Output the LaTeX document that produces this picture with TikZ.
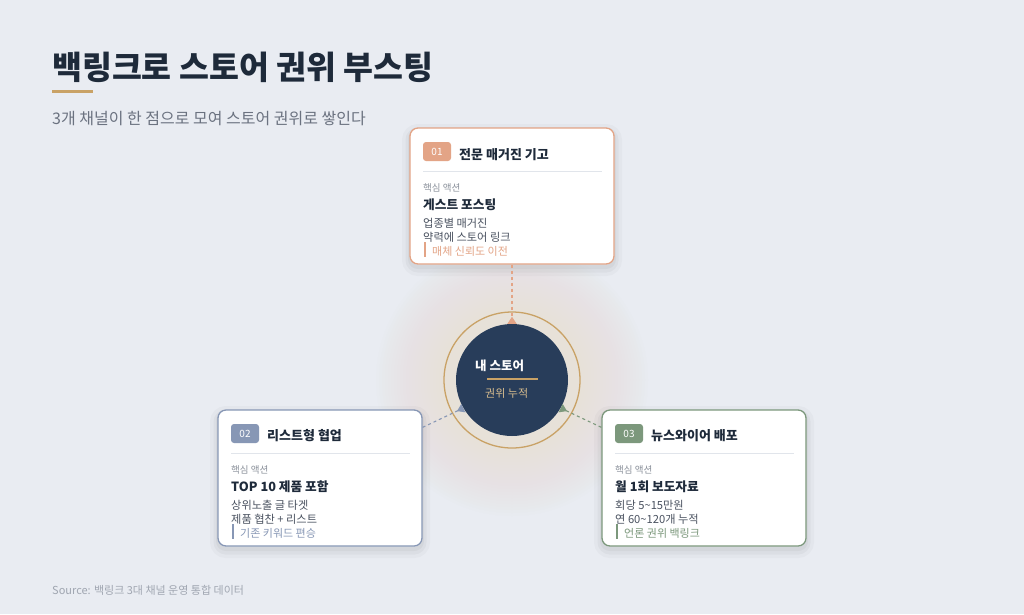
\documentclass[tikz,border=0pt]{standalone}
\usepackage{fontspec}
\setmainfont{Noto Sans CJK KR}
\usepackage{tikz}
\usetikzlibrary{arrows.meta}

\definecolor{bgcol}{HTML}{E9ECF2}
\definecolor{glowcol}{HTML}{E7E1D0}
\definecolor{inkcol}{HTML}{1E2A3A}
\definecolor{subcol}{HTML}{6B7280}
\definecolor{labcol}{HTML}{8B919B}
\definecolor{detcol}{HTML}{4A5260}
\definecolor{sepcol}{HTML}{E1E5EB}
\definecolor{srccol}{HTML}{A0A6B1}
\definecolor{hubcol}{HTML}{283D5A}
\definecolor{goldcol}{HTML}{C9A266}
\definecolor{hubsub}{HTML}{D7BC8E}
\definecolor{salmon}{HTML}{E3A486}
\definecolor{slate}{HTML}{8797B5}
\definecolor{sage}{HTML}{7C987C}

\begin{document}
\begin{tikzpicture}[x=1pt,y=-1pt,
  card/.style={draw=#1, line width=1.3pt, fill=white, rounded corners=8pt,
    minimum width=204pt, minimum height=136pt, inner sep=0pt,
    preaction={draw=black, line width=16pt, opacity=0.025, transform canvas={yshift=-4pt}},
    preaction={draw=black, line width=9pt, opacity=0.03, transform canvas={yshift=-4pt}},
    preaction={draw=black, line width=4pt, opacity=0.035, transform canvas={yshift=-3pt}}},
  badge/.style={fill=#1, rounded corners=3pt, minimum width=28pt,
    minimum height=19pt, inner sep=0pt, text=white,
    font=\fontsize{10}{11}\selectfont},
  txt/.style={anchor=west, inner sep=0pt},
  cardtitle/.style={txt, text=inkcol, font=\fontsize{13}{15}\selectfont\bfseries},
  label/.style={txt, text=labcol, font=\fontsize{9.5}{11}\selectfont},
  action/.style={txt, text=inkcol, font=\fontsize{12.7}{14}\selectfont\bfseries},
  detail/.style={txt, text=detcol, font=\fontsize{11.2}{13}\selectfont},
  note/.style={txt, text=#1, font=\fontsize{11}{13}\selectfont},
  link/.style={draw=#1, line width=1.1pt, dash pattern=on 3pt off 3pt,
    -{Triangle[reversed, width=9pt, length=7pt, fill=#1]}}
]

% background and glow
\fill[bgcol] (0,0) rectangle (1024,614);
\useasboundingbox (0,0) rectangle (1024,614);
\foreach \r in {70,73,...,136}
  \fill[glowcol, opacity=0.035] (512,380) circle (\r pt);

% title
\node[txt, text=inkcol, font=\fontsize{32.5}{36}\selectfont\bfseries] (title) at (52,67) {백링크로 스토어 권위 부스팅};
\draw[goldcol, line width=3pt] (52,91) -- (93,91);
\node[txt, text=subcol, font=\fontsize{16}{19}\selectfont] (subtitle) at (52,119) {3개 채널이 한 점으로 모여 스토어 권위로 쌓인다};

% hub
\draw[goldcol, line width=1.3pt] (512,380) circle (68pt);
\node[circle, fill=hubcol, minimum size=112pt, inner sep=0pt] (hub) at (512,380) {};
\node[txt, text=white, font=\fontsize{12.5}{14}\selectfont\bfseries] (hubtitle) at (475,366) {내 스토어};
\draw[goldcol, line width=1.5pt] (487,379) -- (538,379);
\node[txt, text=hubsub, font=\fontsize{11}{13}\selectfont] (hubsubtitle) at (485,393) {권위 누적};

% card 01
\node[card=salmon] (c1) at (512,196) {};
\node[badge=salmon] (b1) at (437,151.5) {01};
\node[cardtitle] (t1) at (459,155) {전문 매거진 기고};
\draw[sepcol, line width=1pt] (423,171) -- (602,171);
\node[label] (k1) at (423,188) {핵심 액션};
\node[action] (a1) at (423,205) {게스트 포스팅};
\node[detail] (d1a) at (423,223) {업종별 매거진};
\node[detail] (d1b) at (423,237) {약력에 스토어 링크};
\draw[salmon, line width=2pt] (424.5,242) -- (424.5,257);
\node[note=salmon] (n1) at (432,251) {매체 신뢰도 이전};

% card 02
\node[card=slate] (c2) at (320,478) {};
\node[badge=slate] (b2) at (245,433.5) {02};
\node[cardtitle] (t2) at (267,436) {리스트형 협업};
\draw[sepcol, line width=1pt] (231,453) -- (410,453);
\node[label] (k2) at (231,470) {핵심 액션};
\node[action] (a2) at (231,487) {TOP 10 제품 포함};
\node[detail] (d2a) at (231,505) {상위노출 글 타겟};
\node[detail] (d2b) at (231,519) {제품 협찬 + 리스트};
\draw[slate, line width=2pt] (232.5,524) -- (232.5,539);
\node[note=slate] (n2) at (240,533) {기존 키워드 편승};

% card 03
\node[card=sage] (c3) at (704,478) {};
\node[badge=sage] (b3) at (629,433.5) {03};
\node[cardtitle] (t3) at (651,436) {뉴스와이어 배포};
\draw[sepcol, line width=1pt] (615,453) -- (794,453);
\node[label] (k3) at (615,470) {핵심 액션};
\node[action] (a3) at (615,487) {월 1회 보도자료};
\node[detail] (d3a) at (615,505) {회당 5\textasciitilde15만원};
\node[detail] (d3b) at (615,519) {연 60\textasciitilde120개 누적};
\draw[sage, line width=2pt] (616.5,524) -- (616.5,539);
\node[note=sage] (n3) at (624,533) {언론 권위 백링크};

% links
\draw[link=salmon] (c1.south) -- (hub.north);
\draw[link=slate] ([yshift=-18pt]c2.north east) -- (hub.210);
\draw[link=sage] ([yshift=-18pt]c3.north west) -- (hub.330);

% source
\node[txt, text=srccol, font=\fontsize{11}{13}\selectfont] (source) at (52,590) {Source: 백링크 3대 채널 운영 통합 데이터};

\end{tikzpicture}
\end{document}
